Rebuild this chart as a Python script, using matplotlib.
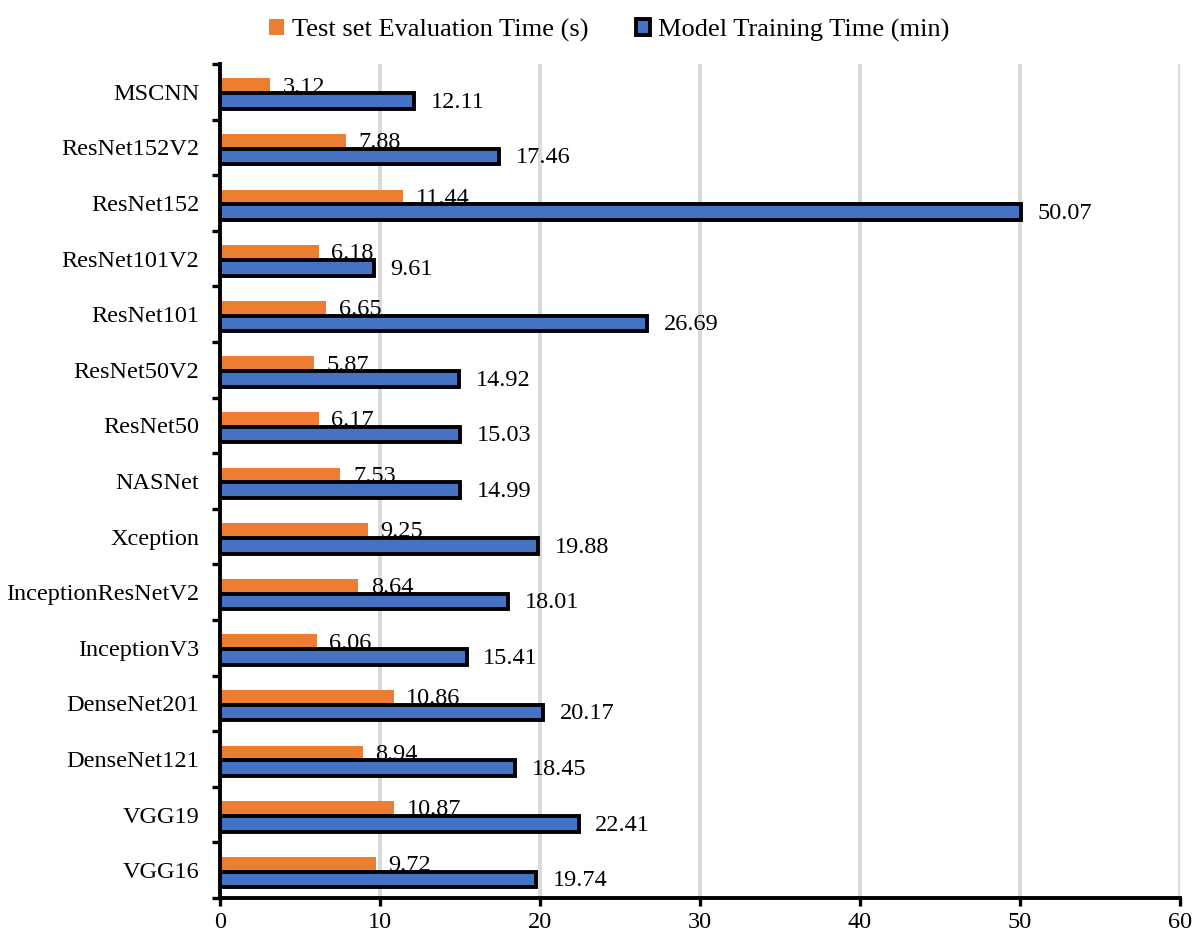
import matplotlib
matplotlib.use("Agg")
import matplotlib.pyplot as plt
from matplotlib.patches import Patch
import numpy as np

plt.rcParams['font.family'] = ['Liberation Serif', 'DejaVu Serif']

models = ["MSCNN", "ResNet152V2", "ResNet152", "ResNet101V2", "ResNet101",
          "ResNet50V2", "ResNet50", "NASNet", "Xception", "InceptionResNetV2",
          "InceptionV3", "DenseNet201", "DenseNet121", "VGG19", "VGG16"]
eval_time_s = [3.12, 7.88, 11.44, 6.18, 6.65, 5.87, 6.17, 7.53, 9.25, 8.64,
               6.06, 10.86, 8.94, 10.87, 9.72]
train_time_min = [12.11, 17.46, 50.07, 9.61, 26.69, 14.92, 15.03, 14.99, 19.88,
                  18.01, 15.41, 20.17, 18.45, 22.41, 19.74]
x_ticks = [0, 10, 20, 30, 40, 50, 60]

orange = "#ED7D31"
blue = "#4472C4"

fig = plt.figure(figsize=(11.95, 9.38), dpi=100)
ax = fig.add_axes([220 / 1195, 1 - 898 / 938, 960 / 1195, (898 - 64) / 938])

y = np.arange(len(models))
y_eval = y - 0.11
y_train = y + 0.165

ax.barh(y_eval, eval_time_s, height=0.26, color=orange, zorder=2)
for yy, v in zip(y_eval, eval_time_s):
    ax.annotate(f"{v:.2f}", (v, yy), xytext=(9, -1), textcoords="offset points",
                ha="left", va="center", fontsize=17.5, zorder=3)

ax.barh(y_train, train_time_min, height=0.28, color=blue, edgecolor="black",
        linewidth=2.8, zorder=4)
for yy, v in zip(y_train, train_time_min):
    ax.annotate(f"{v:.2f}", (v, yy), xytext=(12, -1), textcoords="offset points",
                ha="left", va="center", fontsize=17.5, zorder=5)

ax.set_xlim(0, 60)
ax.set_ylim(len(models) - 0.5, -0.5)
ax.set_xticks(x_ticks)
ax.set_xticklabels([str(t) for t in x_ticks], fontsize=17.5)
ax.tick_params(axis="x", length=6, width=2.4, direction="out", pad=4)

# category boundaries carry the tick marks, labels sit at the centres
ax.set_yticks(np.arange(-0.5, len(models), 1.0))
ax.set_yticklabels([])
ax.tick_params(axis="y", which="major", length=6, width=2.4, direction="out")
ax.set_yticks(y, minor=True)
ax.set_yticklabels(models, minor=True, fontsize=17.5)
ax.tick_params(axis="y", which="minor", length=0, pad=15)

ax.grid(axis="x", color="#d9d9d9", linewidth=2.8, zorder=0)
ax.set_axisbelow(True)
for side in ("top", "right"):
    ax.spines[side].set_visible(False)
for side in ("left", "bottom"):
    ax.spines[side].set_linewidth(2.8)
    ax.spines[side].set_zorder(6)

handles = [Patch(facecolor=orange, edgecolor="none", label="Test set Evaluation Time (s)"),
           Patch(facecolor=blue, edgecolor="black", linewidth=2.8,
                 label="Model Training Time (min)")]
fig.legend(handles=handles, loc="center", bbox_to_anchor=(0.51, 0.968), ncol=2,
           frameon=False, fontsize=19, handlelength=0.55, handleheight=0.55,
           handletextpad=0.3, columnspacing=1.8)

fig.savefig("out.png", dpi=100)
